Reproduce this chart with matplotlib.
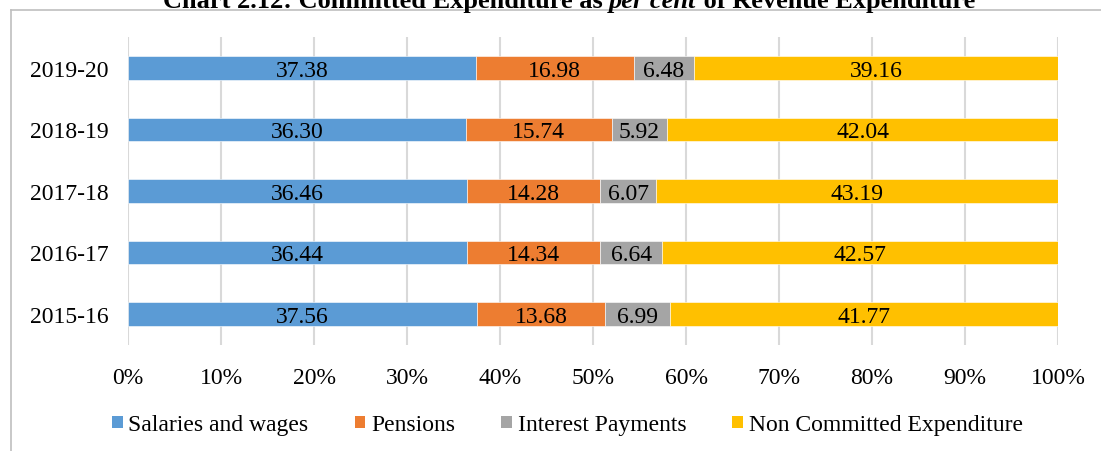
import numpy as np
import matplotlib.pyplot as plt
from matplotlib.patches import Patch
from matplotlib.lines import Line2D
from matplotlib.ticker import PercentFormatter

plt.rcParams['font.family'] = ['Liberation Serif', 'DejaVu Serif']

# Data
years = ['2015-16', '2016-17', '2017-18', '2018-19', '2019-20']
salaries = [37.56, 36.44, 36.46, 36.30, 37.38]
pensions = [13.68, 14.34, 14.28, 15.74, 16.98]
interest = [6.99, 6.64, 6.07, 5.92, 6.48]
non_committed = [41.77, 42.57, 43.19, 42.04, 39.16]

series = [salaries, pensions, interest, non_committed]
names = ['Salaries and wages', 'Pensions', 'Interest Payments', 'Non Committed Expenditure']
colors = ['#5B9BD5', '#ED7D31', '#A5A5A5', '#FFC000']

W, H = 1101, 452
fig = plt.figure(figsize=(W / 100, H / 100), dpi=100)

# outer chart frame (only left and top edges visible)
fx, fy = 10.5 / W, 1 - 10.5 / H
fig.add_artist(Line2D([fx, fx], [-0.05, fy], transform=fig.transFigure,
                      color='#BFBFBF', linewidth=1.2))
fig.add_artist(Line2D([fx, 1.05], [fy, fy], transform=fig.transFigure,
                      color='#BFBFBF', linewidth=1.2))

ax = fig.add_axes([128 / W, 1 - 345.75 / H, (1058 - 128) / W, (345.75 - 38.25) / H])

vals = np.array(series, dtype=float)
totals = vals.sum(axis=0)
pct = vals / totals * 100

y = np.arange(len(years))
left = np.zeros(len(years))
for i in range(len(series)):
    ax.barh(y, pct[i], left=left, height=0.39, color=colors[i],
            edgecolor='white', linewidth=0.4, zorder=3)
    for j in range(len(years)):
        ax.text(left[j] + pct[i][j] / 2, y[j], f'{vals[i][j]:.2f}',
                ha='center', va='center_baseline', fontsize=17, color='black', zorder=4)
    left += pct[i]

ax.set_xlim(0, 100)
ax.set_ylim(-0.5, len(years) - 0.5)
ax.set_yticks(y)
ax.set_yticklabels(years, fontsize=17)
ax.set_xticks(np.arange(0, 101, 10))
ax.xaxis.set_major_formatter(PercentFormatter(decimals=0))
ax.tick_params(axis='x', labelsize=17, length=0, pad=16)
ax.tick_params(axis='y', length=0, pad=14)
ax.grid(axis='x', color='#D9D9D9', linewidth=1.5, zorder=0)
for s in ax.spines.values():
    s.set_visible(False)

handles = [Patch(facecolor=c, edgecolor='none') for c in colors]
fig.legend(handles, names, loc='center', bbox_to_anchor=(0.5154, 1 - 426 / H),
           ncol=4, frameon=False, fontsize=17, handlelength=0.45, handleheight=0.45,
           handletextpad=0.25, columnspacing=1.95)

# title, cut off at the top edge as in the source
fig.canvas.draw()
r = fig.canvas.get_renderer()
parts = [('Chart 2.12: Committed Expenditure as ', 'normal'),
         ('per cent', 'italic'),
         (' of Revenue Expenditure', 'normal')]
texts = []
x = 0
for s, st in parts:
    t = fig.text(x, 1 - 8 / H, s, fontsize=19, fontweight='bold', style=st,
                 va='baseline', ha='left')
    x += t.get_window_extent(r).width / W
    texts.append(t)
start = 569 / W - x / 2
for t in texts:
    t.set_x(t.get_position()[0] + start)

fig.savefig('out.png', dpi=100)
